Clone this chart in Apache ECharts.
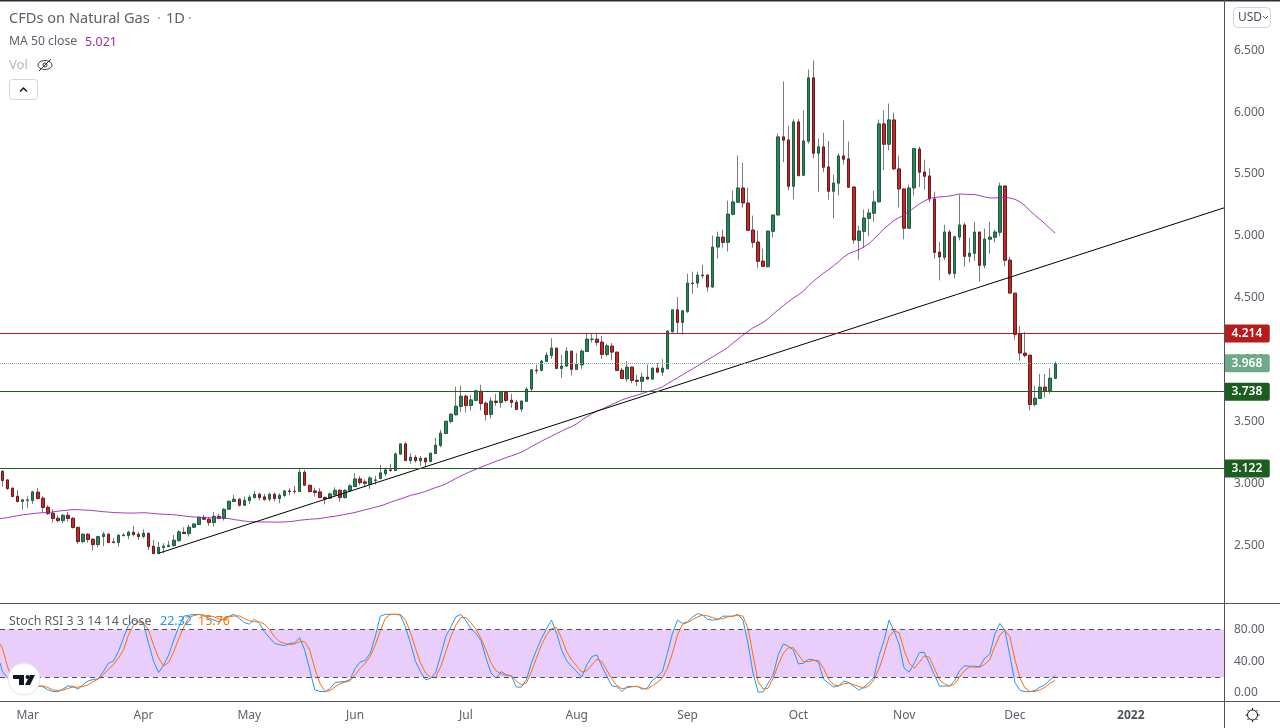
<!DOCTYPE html>
<html lang="en">
  <head>
    <meta charset="UTF-8" />
    <title>CFDs on Natural Gas</title>
    <style>
      html,
      body {
        margin: 0;
        padding: 0;
        background: #fff;
      }
      #main {
        width: 1280px;
        height: 728px;
      }
    </style>
  </head>
  <body>
    <div id="main"></div>
    <script src="https://cdn.jsdelivr.net/npm/echarts@6/dist/echarts.min.js"></script>
    <script>
      // daily candles
      const opens = [
        3.097,3.027,2.960,2.895,2.852,2.860,2.860,2.928,2.879,2.806,
        2.758,2.717,2.698,2.741,2.717,2.644,2.528,2.588,2.547,2.504,
        2.569,2.588,2.526,2.520,2.577,2.577,2.604,2.588,2.569,2.596,
        2.491,2.431,2.480,2.488,2.496,2.536,2.604,2.593,2.644,2.666,
        2.725,2.709,2.682,2.733,2.715,2.790,2.852,2.871,2.822,2.860,
        2.884,2.911,2.890,2.871,2.911,2.876,2.901,2.938,2.936,2.933,
        3.089,2.984,2.938,2.930,2.887,2.879,2.906,2.943,2.884,2.941,
        2.973,3.035,3.011,2.992,3.022,3.038,3.076,3.108,3.103,3.235,
        3.318,3.183,3.210,3.181,3.202,3.175,3.240,3.305,3.402,3.499,
        3.553,3.620,3.704,3.628,3.669,3.744,3.647,3.556,3.664,3.653,
        3.734,3.672,3.655,3.599,3.661,3.761,3.914,3.912,3.984,4.033,
        4.092,3.928,3.947,4.068,3.920,3.957,4.065,4.163,4.165,4.141,
        4.041,4.109,4.060,3.914,3.844,3.939,3.833,3.823,3.858,3.842,
        3.931,3.898,3.925,4.224,4.402,4.300,4.389,4.618,4.618,4.683,
        4.683,4.586,4.909,4.990,4.947,5.174,5.271,5.387,5.265,5.047,
        4.950,4.796,4.750,5.036,5.168,5.800,5.775,5.400,5.921,5.489,
        5.764,6.277,5.667,5.719,5.557,5.360,5.425,5.646,5.622,5.395,
        4.963,5.036,5.141,5.182,5.274,5.905,5.740,5.937,5.541,5.379,
        5.061,5.387,5.702,5.516,5.484,5.298,4.869,4.826,5.031,4.696,
        4.990,5.088,4.834,4.858,5.031,4.761,4.972,4.988,5.028,5.403,
        4.804,4.537,4.206,4.052,4.036,3.637,3.685,3.777,3.747,3.847,
      ];
      const closes = [
        3.022,2.957,2.893,2.852,2.866,2.866,2.930,2.876,2.804,2.755,
        2.715,2.698,2.741,2.715,2.642,2.528,2.588,2.545,2.504,2.569,
        2.588,2.520,2.520,2.580,2.582,2.604,2.585,2.569,2.596,2.488,
        2.431,2.483,2.491,2.499,2.539,2.607,2.593,2.644,2.671,2.725,
        2.709,2.682,2.733,2.717,2.790,2.855,2.871,2.822,2.863,2.887,
        2.911,2.884,2.868,2.911,2.876,2.903,2.938,2.933,2.933,3.089,
        2.984,2.933,2.925,2.884,2.873,2.914,2.943,2.884,2.943,2.979,
        3.035,3.005,3.000,3.043,3.027,3.084,3.108,3.103,3.237,3.318,
        3.183,3.210,3.183,3.202,3.173,3.243,3.308,3.405,3.502,3.558,
        3.623,3.704,3.628,3.674,3.747,3.645,3.556,3.664,3.653,3.739,
        3.669,3.653,3.596,3.664,3.761,3.917,3.909,3.987,4.036,4.092,
        3.928,3.947,4.068,3.920,3.960,4.068,4.165,4.165,4.138,4.041,
        4.111,4.060,3.912,3.847,3.939,3.831,3.823,3.858,3.842,3.931,
        3.898,3.931,4.230,4.402,4.300,4.394,4.618,4.613,4.683,4.678,
        4.586,4.909,4.990,4.947,5.176,5.274,5.387,5.265,5.044,4.947,
        4.794,4.753,5.039,5.168,5.800,5.773,5.400,5.921,5.487,5.767,
        6.277,5.667,5.719,5.554,5.360,5.427,5.646,5.619,5.392,4.966,
        5.039,5.144,5.185,5.274,5.905,5.740,5.937,5.541,5.379,5.061,
        5.387,5.705,5.514,5.481,5.298,4.866,4.829,5.031,4.696,4.993,
        5.088,4.834,4.861,5.031,4.761,4.974,4.990,5.031,5.403,4.802,
        4.537,4.203,4.052,4.033,3.637,3.688,3.777,3.747,3.850,3.968,
      ];
      const lows = [
        2.973,2.946,2.887,2.849,2.785,2.801,2.833,2.871,2.763,2.744,
        2.682,2.682,2.677,2.690,2.634,2.510,2.515,2.520,2.456,2.483,
        2.493,2.520,2.518,2.488,2.569,2.547,2.569,2.542,2.555,2.461,
        2.429,2.431,2.434,2.483,2.488,2.528,2.590,2.569,2.639,2.663,
        2.704,2.655,2.650,2.709,2.698,2.785,2.849,2.812,2.817,2.833,
        2.876,2.860,2.860,2.852,2.852,2.839,2.887,2.903,2.914,2.930,
        2.979,2.925,2.892,2.879,2.830,2.873,2.892,2.852,2.876,2.935,
        2.968,2.984,2.968,2.954,2.989,3.032,3.059,3.092,3.100,3.232,
        3.181,3.156,3.167,3.140,3.130,3.173,3.237,3.291,3.399,3.483,
        3.548,3.577,3.572,3.588,3.664,3.588,3.507,3.523,3.626,3.610,
        3.653,3.610,3.593,3.577,3.658,3.742,3.885,3.906,3.982,4.006,
        3.922,3.852,3.939,3.871,3.917,3.925,4.063,4.138,4.111,4.006,
        4.025,3.993,3.909,3.844,3.820,3.809,3.788,3.734,3.839,3.836,
        3.895,3.869,3.922,4.219,4.214,4.203,4.376,4.532,4.580,4.656,
        4.548,4.580,4.815,4.904,4.874,5.166,5.265,5.228,5.042,4.904,
        4.737,4.748,4.745,4.988,5.166,5.595,5.368,5.295,5.479,5.487,
        5.746,5.627,5.357,5.514,5.292,5.141,5.327,5.576,5.387,4.936,
        4.807,4.901,4.996,5.114,5.271,5.530,5.692,5.530,5.230,4.972,
        5.058,5.325,5.395,5.373,5.271,4.815,4.640,4.802,4.680,4.653,
        4.963,4.750,4.785,4.799,4.632,4.737,4.856,4.945,4.996,4.753,
        4.535,4.160,3.990,4.017,3.588,3.620,3.682,3.693,3.723,3.844,
      ];
      const highs = [
        3.105,3.033,2.968,2.946,2.871,2.893,2.938,2.963,2.898,2.825,
        2.790,2.741,2.752,2.768,2.725,2.644,2.596,2.596,2.555,2.574,
        2.607,2.596,2.558,2.588,2.596,2.617,2.655,2.607,2.628,2.600,
        2.542,2.526,2.515,2.534,2.582,2.623,2.644,2.663,2.677,2.731,
        2.744,2.725,2.768,2.752,2.798,2.860,2.906,2.879,2.893,2.906,
        2.938,2.925,2.914,2.925,2.925,2.919,2.946,2.960,2.979,3.122,
        3.108,2.989,2.965,2.960,2.887,2.925,2.968,2.952,2.952,2.992,
        3.081,3.059,3.032,3.059,3.059,3.148,3.116,3.156,3.248,3.324,
        3.335,3.243,3.227,3.221,3.210,3.248,3.367,3.432,3.502,3.566,
        3.780,3.788,3.715,3.715,3.755,3.796,3.661,3.696,3.723,3.747,
        3.742,3.723,3.674,3.674,3.777,3.922,3.957,3.998,4.060,4.173,
        4.098,4.036,4.100,4.071,4.052,4.084,4.214,4.214,4.214,4.192,
        4.127,4.133,4.063,3.931,3.987,3.944,3.877,3.895,3.960,3.936,
        3.971,4.003,4.235,4.402,4.505,4.402,4.694,4.710,4.710,4.767,
        4.688,5.001,5.034,5.050,5.284,5.365,5.649,5.592,5.390,5.163,
        5.042,4.896,5.039,5.174,5.827,6.247,5.891,5.940,5.945,6.013,
        6.344,6.417,5.786,5.832,5.767,5.495,5.667,5.934,5.762,5.398,
        5.082,5.212,5.220,5.365,5.940,6.013,6.069,5.996,5.648,5.384,
        5.414,5.711,5.721,5.616,5.543,5.357,4.953,5.090,5.050,5.001,
        5.333,5.106,4.985,5.114,5.031,5.058,5.114,5.050,5.430,5.406,
        4.831,4.537,4.273,4.222,4.038,3.788,3.885,3.885,3.925,3.982,
      ];
      const ma50 = [
        2.717,2.722,2.730,2.738,2.744,2.749,2.755,2.759,2.762,2.763,
        2.768,2.774,2.779,2.783,2.787,2.786,2.784,2.782,2.779,2.774,
        2.770,2.767,2.763,2.762,2.760,2.759,2.759,2.760,2.762,2.759,
        2.755,2.752,2.749,2.748,2.745,2.741,2.736,2.730,2.728,2.725,
        2.722,2.721,2.720,2.720,2.718,2.714,2.706,2.701,2.694,2.690,
        2.689,2.687,2.687,2.687,2.686,2.686,2.687,2.690,2.694,2.701,
        2.705,2.709,2.712,2.714,2.722,2.728,2.733,2.741,2.748,2.756,
        2.764,2.775,2.786,2.795,2.806,2.817,2.830,2.846,2.860,2.873,
        2.887,2.902,2.911,2.922,2.934,2.951,2.965,2.978,2.995,3.016,
        3.038,3.059,3.078,3.097,3.113,3.130,3.146,3.162,3.178,3.192,
        3.208,3.221,3.235,3.251,3.272,3.297,3.318,3.340,3.361,3.380,
        3.402,3.421,3.442,3.459,3.480,3.510,3.537,3.561,3.583,3.599,
        3.618,3.637,3.655,3.674,3.688,3.701,3.712,3.725,3.739,3.750,
        3.763,3.779,3.804,3.828,3.852,3.877,3.901,3.925,3.950,3.974,
        3.998,4.022,4.047,4.071,4.098,4.133,4.165,4.198,4.227,4.257,
        4.278,4.300,4.330,4.367,4.402,4.435,4.467,4.497,4.524,4.553,
        4.597,4.632,4.667,4.699,4.726,4.758,4.791,4.828,4.856,4.872,
        4.888,4.909,4.936,4.974,5.015,5.058,5.090,5.125,5.147,5.171,
        5.195,5.228,5.257,5.282,5.301,5.309,5.314,5.317,5.322,5.330,
        5.338,5.336,5.334,5.333,5.325,5.314,5.306,5.306,5.311,5.311,
        5.306,5.295,5.274,5.244,5.201,5.166,5.131,5.096,5.058,5.021,
      ];
      const stochK = [
        27,19,12,9,7.5,7,7.5,9,8,4,
        2,1.7,5,9,8.3,5,10.4,15.4,17,18,
        27,37.5,40,52,69,85.4,91.7,89.6,87.5,62.5,
        39.6,25.8,35.4,48,66.7,83.3,96.7,98,98.8,99,
        97,94,91.7,89.6,93.8,96.7,99,93.8,88.7,86.7,
        93,87.5,77,69.6,62.5,60.8,59.6,62.5,63,69.6,
        54,29,4,2,1.7,5.4,13.3,14,14.6,17,
        31,39,41,50,71,96.7,99,99,99,98,
        83,62.5,39.6,27,16.7,18.7,26,48,71,83.3,
        95.8,99,90.8,81,75,65.8,43.8,25,18.7,27,
        23,21.7,7.5,7.5,16.7,37.5,54,68.7,81,91.7,
        75,54,40.8,33.3,27,20,35.4,45.8,48,33.3,
        20.8,9,8,1.7,8.3,8.3,8.3,5,6.2,16,
        20.8,27,50,75,91.7,87.5,89.6,95.8,100,98,
        92.5,91.7,92.5,96.7,96.7,96.7,99,91.7,62.5,25,
        1.3,1.3,12.5,23,48,61.7,59,54,36.7,37.5,
        42.5,41.7,38.8,17.5,12.5,7.5,9,15,13.3,8.3,
        3.7,7.5,13,20,47,65.8,91.7,78,61.2,31.2,
        26.3,37.5,50.8,51.2,37.5,23,8.8,8.8,8.8,15.4,
        28.3,34.2,33.8,33.8,33.3,43.8,48.8,74,87.5,79,
        46.7,13.3,3.3,1.7,1.7,3.3,7.5,10.8,16.7,22.32,
      ];
      const stochD = [
        56,33,16.7,10.4,7.5,6.7,7,8.3,9,7,
        4,3.3,3.7,6,7.5,7.5,8.3,10.4,14.6,17.5,
        23,30,35.4,43.8,54,73,85.4,89.6,88.3,79,
        60,43.8,34,38.8,52,68.7,83.3,95,97.5,98.8,
        98,97.5,95.8,92.9,92.5,95.8,97,97,93.8,90.8,
        89.6,89.6,86.7,80,70.8,64.6,62.5,61,61.7,64.6,
        64.6,54,31,12.5,2,3,7.5,11.7,13.8,15.4,
        23,31,37.5,45.8,60.4,78.3,93.8,99,99,99,
        91.7,76,56,37.5,25,19.6,20,33.3,52,71,
        85.4,95,95,88.3,80,68.7,54,37.5,28,24,
        22,21.7,15.4,10.4,12.5,27,43.8,60.4,73,81,
        82.5,68.7,52,41.7,34,26.3,28.3,35.4,42.5,39.6,
        28.3,17.5,9,5.4,6.7,8,8.3,6.2,5,9,
        13.3,18.7,31.2,50,73,86.3,88.7,92.5,95.8,98,
        97,95,92.9,93.8,95.8,96.7,98,96.7,81.3,48,
        14.6,5,6.2,18.7,35.4,50,57,57,48,39.6,
        39.6,41.2,40.8,31.2,17.5,10.4,9,11.7,12.5,10.4,
        8.3,6.2,9,16.7,30.4,49,70.8,78.3,75.8,54,
        37.5,31.2,38.8,46.7,45,31.2,16.7,11.7,8.8,11.2,
        20,28.3,32.9,32.5,32.5,36.3,41.7,58.3,73,79,
        70.8,41.7,18.7,6.2,2,2,4,7.5,12.5,15.76,
      ];
      // where the lines come in at the left edge, just before the first candle
      const ma50Before = 2.714;
      const stochKBefore = 38;
      const stochDBefore = 62;

      // the axis also runs past the last candle, up to the start of 2022 and beyond
      const slotCount = 243;
      const monthLabels = ["Mar", "Apr", "May", "Jun", "Jul", "Aug", "Sep", "Oct", "Nov", "Dec", "2022"];
      const monthStarts = [5, 28, 49, 70, 92, 114, 136, 158, 179, 201, 224];
      const priceTicks = [2.5, 3, 3.5, 4, 4.5, 5, 5.5, 6, 6.5];
      const stochTicks = [0, 40, 80];
      const stochBand = [20, 80];
      const resistance = 4.214;
      const lastClose = 3.968;
      const supports = [3.738, 3.122];
      const trendFrom = [31.5, 2.434];
      const trendTo = [243, 5.226];

      const slots = Array.from({ length: slotCount }, (_, i) => i);
      const grey = "#5d606b";
      const frame = "#50535e";
      const font = '"Noto Sans", sans-serif';

      const wicks = opens.map((o, i) => [o, closes[i], lows[i], highs[i]]);
      const bodies = opens.map((o, i) => [o, closes[i], Math.min(o, closes[i]), Math.max(o, closes[i])]);

      // lines run on a plain value axis so they can start at the very edge of the pane
      function withLeadIn(before, values) {
        return [[0, before]].concat(values.map((v, i) => [i + 0.5, v]));
      }

      function tag(value, bg, style) {
        return {
          yAxis: value,
          lineStyle: { color: bg, width: 1, type: style || "solid" },
          label: {
            show: true,
            position: "end",
            distance: 0,
            formatter: value.toFixed(3),
            color: "#fff",
            fontFamily: font,
            fontSize: 12,
            fontWeight: 600,
            backgroundColor: bg,
            padding: [4, 7.5, 2, 7.5],
            borderRadius: [0, 2, 2, 0],
          },
        };
      }

      function text(x, y, str, color, size, extra) {
        return {
          type: "text",
          x: x,
          y: y,
          z: 50,
          style: Object.assign(
            { text: str, fill: color, font: (size || 13) + "px " + font, textVerticalAlign: "middle" },
            extra || {}
          ),
        };
      }

      function hline(y, x2) {
        return { type: "line", z: 40, shape: { x1: 0, y1: y, x2: x2, y2: y }, style: { stroke: frame, lineWidth: 1 } };
      }

      function sunRay(x1, y1, x2, y2) {
        return { type: "line", z: 50, shape: { x1, y1, x2, y2 }, style: { stroke: "#131722", lineWidth: 1 } };
      }

      const chrome = [
        { type: "rect", z: 40, shape: { x: 0, y: 0, width: 1280, height: 1.5 }, style: { fill: "#2a2e39" } },
        hline(603.5, 1280),
        hline(701.5, 1280),
        { type: "line", z: 40, shape: { x1: 1224.5, y1: 0, x2: 1224.5, y2: 728 }, style: { stroke: frame, lineWidth: 1 } },

        // legends
        text(9, 19, "CFDs on Natural Gas", grey, 14.6),
        text(157, 19, "·", "#9598a1", 14),
        text(166, 19, "1D", grey, 14.6),
        text(188, 19, "·", "#9598a1", 14),
        text(9, 42, "MA 50 close", grey, 12.2),
        text(85, 42, "5.021", "#9c27b0", 12.5),
        text(9, 65.5, "Vol", "#b2b5be", 13),
        { type: "ellipse", z: 50, shape: { cx: 45, cy: 65, rx: 7, ry: 4.5 }, style: { fill: "none", stroke: "#33363f", lineWidth: 1 } },
        { type: "circle", z: 50, shape: { cx: 45, cy: 65, r: 2 }, style: { fill: "none", stroke: "#33363f", lineWidth: 1 } },
        { type: "line", z: 50, shape: { x1: 39, y1: 71, x2: 51, y2: 59 }, style: { stroke: "#33363f", lineWidth: 1 } },
        { type: "rect", z: 50, shape: { x: 9.5, y: 79.5, width: 28, height: 20, r: 3 }, style: { fill: "#fff", stroke: "#d1d4dc", lineWidth: 1 } },
        { type: "polyline", z: 51, shape: { points: [[20, 91.5], [23.5, 88], [27, 91.5]] }, style: { fill: "none", stroke: "#131722", lineWidth: 1.5 } },
        text(9, 621.5, "Stoch RSI 3 3 14 14 close", grey, 12.4),
        text(160, 621.5, "22.32", "#2196f3", 12.5),
        text(198, 621.5, "15.76", "#ff6d00", 12.5),

        // currency button
        { type: "rect", z: 50, shape: { x: 1233.5, y: 7.5, width: 37, height: 20, r: 4 }, style: { fill: "#fff", stroke: "#d1d4dc", lineWidth: 1 } },
        text(1238, 17.5, "USD", "#4c525e", 12),
        { type: "polyline", z: 51, shape: { points: [[1263, 16], [1265.5, 18.5], [1268, 16]] }, style: { fill: "none", stroke: "#4c525e", lineWidth: 1 } },

        // logo badge
        { type: "circle", z: 50, shape: { cx: 24, cy: 679, r: 16 }, style: { fill: "#fff", stroke: "#e0e3eb", lineWidth: 1 } },
        { type: "polygon", z: 51, shape: { points: [[13, 675], [24, 675], [24, 685], [19, 685], [19, 679], [13, 679]] }, style: { fill: "#131722" } },
        { type: "circle", z: 51, shape: { cx: 27.5, cy: 677, r: 2 }, style: { fill: "#131722" } },
        { type: "polygon", z: 51, shape: { points: [[30, 675], [35, 675], [30, 685], [25, 685]] }, style: { fill: "#131722" } },

        // settings sun
        { type: "circle", z: 50, shape: { cx: 1252.5, cy: 715, r: 5 }, style: { fill: "none", stroke: "#131722", lineWidth: 1 } },
        sunRay(1252.5, 708, 1252.5, 710),
        sunRay(1252.5, 720, 1252.5, 722),
        sunRay(1245.5, 715, 1247.5, 715),
        sunRay(1257.5, 715, 1259.5, 715),
        sunRay(1247.5, 710, 1249, 711.5),
        sunRay(1256, 718.5, 1257.5, 720),
        sunRay(1247.5, 720, 1249, 718.5),
        sunRay(1256, 711.5, 1257.5, 710),
      ];

      const option = {
        animation: false,
        backgroundColor: "#fff",
        textStyle: { fontFamily: font },
        graphic: chrome,
        grid: [
          { left: 0, right: 56, top: 2, height: 601 },
          { left: 0, right: 56, top: 604, height: 97 },
        ],
        xAxis: [
          {
            gridIndex: 0,
            type: "category",
            data: slots,
            axisLine: { show: false },
            axisTick: { show: false },
            axisLabel: { show: false },
          },
          {
            gridIndex: 1,
            type: "category",
            data: slots,
            axisLine: { show: false },
            axisTick: { show: false },
            axisLabel: {
              margin: 9,
              interval: (i) => monthStarts.includes(i),
              formatter: (v) => {
                const label = monthLabels[monthStarts.indexOf(Number(v))];
                return label === "2022" ? "{year|2022}" : label;
              },
              color: grey,
              fontSize: 12,
              fontFamily: font,
              rich: { year: { fontWeight: 700, color: "#4c525e", fontSize: 12, fontFamily: font } },
            },
          },
          { gridIndex: 0, type: "value", min: 0, max: slotCount, show: false },
          { gridIndex: 1, type: "value", min: 0, max: slotCount, show: false },
        ],
        yAxis: [
          {
            gridIndex: 0,
            position: "right",
            min: 2.032,
            max: 6.89,
            splitLine: { show: false },
            axisLine: { show: false },
            axisTick: { show: false },
            axisLabel: {
              customValues: priceTicks,
              formatter: (v) => v.toFixed(3),
              color: grey,
              fontSize: 12,
              fontFamily: font,
              margin: 10,
              padding: [4, 0, 0, 0],
            },
          },
          {
            gridIndex: 1,
            position: "right",
            min: -10,
            max: 112,
            splitLine: { show: false },
            axisLine: { show: false },
            axisTick: { show: false },
            axisLabel: {
              customValues: stochTicks,
              formatter: (v) => v.toFixed(2),
              color: grey,
              fontSize: 12,
              fontFamily: font,
              margin: 10,
              padding: [4, 0, 0, 0],
            },
          },
        ],
        series: [
          {
            name: "wicks",
            type: "candlestick",
            data: wicks,
            barWidth: 1,
            z: 2,
            itemStyle: {
              color: "#787b86",
              color0: "#787b86",
              borderColor: "#787b86",
              borderColor0: "#787b86",
              borderWidth: 1,
            },
          },
          {
            name: "bodies",
            type: "candlestick",
            data: bodies,
            barWidth: 3,
            z: 3,
            itemStyle: {
              color: "#2e8060",
              color0: "#c62828",
              borderColor: "#1b5e38",
              borderColor0: "#6b1a1a",
              borderWidth: 1,
            },
          },
          {
            name: "MA 50",
            type: "line",
            xAxisIndex: 2,
            data: withLeadIn(ma50Before, ma50),
            showSymbol: false,
            z: 4,
            lineStyle: { color: "rgba(156,39,176,0.9)", width: 1 },
          },
          {
            name: "trend",
            type: "line",
            xAxisIndex: 2,
            data: [trendFrom, trendTo],
            showSymbol: false,
            z: 4,
            lineStyle: { color: "#000", width: 1 },
          },
          {
            name: "levels",
            type: "line",
            data: [],
            z: 5,
            markLine: {
              silent: true,
              symbol: "none",
              data: [
                tag(resistance, "#b71c1c"),
                tag(lastClose, "#6fa98b", "dotted"),
                tag(supports[0], "#1b5e20"),
                tag(supports[1], "#1b5e20"),
              ],
            },
          },
          {
            name: "%K",
            type: "line",
            xAxisIndex: 3,
            yAxisIndex: 1,
            data: withLeadIn(stochKBefore, stochK),
            showSymbol: false,
            z: 4,
            lineStyle: { color: "#2196f3", width: 1 },
            markArea: {
              silent: true,
              itemStyle: { color: "#e9cefc" },
              data: [[{ yAxis: stochBand[1] }, { yAxis: stochBand[0] }]],
            },
            markLine: {
              silent: true,
              symbol: "none",
              label: { show: false },
              lineStyle: { color: frame, type: [5, 4], width: 1 },
              data: [{ yAxis: stochBand[1] }, { yAxis: stochBand[0] }],
            },
          },
          {
            name: "%D",
            type: "line",
            xAxisIndex: 3,
            yAxisIndex: 1,
            data: withLeadIn(stochDBefore, stochD),
            showSymbol: false,
            z: 4,
            lineStyle: { color: "#ff6d00", width: 1 },
          },
        ],
      };

      const myChart = echarts.init(document.querySelector("#main"), null, { renderer: "canvas" });
      myChart.setOption(option);
    </script>
  </body>
</html>
